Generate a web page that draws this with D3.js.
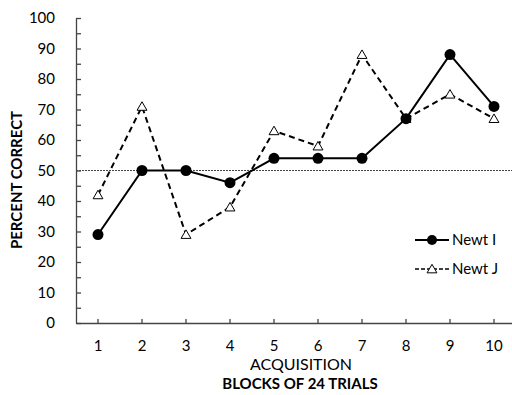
<!DOCTYPE html>
<html lang="en">
<head>
    <meta charset="UTF-8">
    <script src="https://cdnjs.cloudflare.com/ajax/libs/d3/7.8.5/d3.min.js"></script>
    <style>
        body { margin: 0; background: #fff; }
        svg { display: block; font-family: Lato, "Open Sans", sans-serif; }
    </style>
</head>
<body>
    <svg width="512" height="395"></svg>
    <script>
        // data
        var blocks = ["1", "2", "3", "4", "5", "6", "7", "8", "9", "10"];
        var newtI = [29, 50, 50, 46, 54, 54, 54, 67, 88, 71];
        var newtJ = [42, 71, 29, 38, 63, 58, 88, 67, 75, 67];
        var yTicks = [0, 10, 20, 30, 40, 50, 60, 70, 80, 90, 100];
        var chanceLevel = 50;

        var svg = d3.select("svg");
        var mLeft = 76, mTop = 18, mBottom = 323;

        var x = d3.scaleBand().domain(blocks).range([mLeft, mLeft + 440]);
        var y = d3.scaleLinear().domain([0, 100]).range([mBottom, mTop]);
        var cx = function (i) { return x(blocks[i]) + x.bandwidth() / 2; };

        // chance line
        svg.append("line")
            .attr("x1", mLeft).attr("x2", 512)
            .attr("y1", y(chanceLevel)).attr("y2", y(chanceLevel))
            .attr("stroke", "#444").attr("stroke-width", 1)
            .attr("stroke-dasharray", "2,1");

        // y axis, ticks inside
        var yAxis = d3.axisRight(y)
            .tickValues(d3.range(0, 101, 5))
            .tickSize(5)
            .tickSizeOuter(0)
            .tickFormat("");
        var yg = svg.append("g").attr("transform", "translate(" + mLeft + ",0)").call(yAxis);
        yg.selectAll("path, line").attr("stroke", "#444").attr("stroke-width", 1.3);

        svg.selectAll("text.ylab")
            .data(yTicks)
            .enter().append("text")
            .attr("class", "ylab")
            .attr("x", 55)
            .attr("y", function (d) { return y(d); })
            .attr("dy", "0.36em")
            .attr("text-anchor", "end")
            .style("font-size", "15px")
            .text(function (d) { return d; });

        // x axis, ticks pointing up
        var xAxis = d3.axisTop(x).tickSize(4).tickSizeOuter(0).tickFormat("");
        var xg = svg.append("g").attr("transform", "translate(0," + mBottom + ")").call(xAxis);
        xg.selectAll("path, line").attr("stroke", "#444").attr("stroke-width", 1.3);

        svg.selectAll("text.xlab")
            .data(blocks)
            .enter().append("text")
            .attr("class", "xlab")
            .attr("x", function (d) { return x(d) + x.bandwidth() / 2; })
            .attr("y", 346)
            .attr("dy", "0.36em")
            .attr("text-anchor", "middle")
            .style("font-size", "15px")
            .text(function (d) { return d; });

        // series lines
        var line = d3.line()
            .x(function (d, i) { return cx(i); })
            .y(function (d) { return y(d); });

        svg.append("path").datum(newtJ)
            .attr("d", line)
            .attr("fill", "none").attr("stroke", "#000")
            .attr("stroke-width", 2).attr("stroke-dasharray", "6,4");

        svg.append("path").datum(newtI)
            .attr("d", line)
            .attr("fill", "none").attr("stroke", "#000")
            .attr("stroke-width", 2);

        var tri = d3.symbol().type(d3.symbolTriangle).size(42);

        svg.selectAll("path.tri")
            .data(newtJ)
            .enter().append("path")
            .attr("class", "tri")
            .attr("d", tri)
            .attr("transform", function (d, i) { return "translate(" + cx(i) + "," + (y(d) + 1) + ")"; })
            .attr("fill", "#fff").attr("stroke", "#000").attr("stroke-width", 1);

        svg.selectAll("circle.dot")
            .data(newtI)
            .enter().append("circle")
            .attr("class", "dot")
            .attr("cx", function (d, i) { return cx(i); })
            .attr("cy", function (d) { return y(d); })
            .attr("r", 5.5)
            .attr("fill", "#000");

        // legend
        var legend = svg.append("g");
        legend.append("line").attr("x1", 415).attr("x2", 449).attr("y1", 240).attr("y2", 240)
            .attr("stroke", "#000").attr("stroke-width", 2);
        legend.append("circle").attr("cx", 432).attr("cy", 240).attr("r", 5).attr("fill", "#000");
        legend.append("text").attr("x", 452).attr("y", 240).attr("dy", "0.36em")
            .style("font-size", "15px").text("Newt I");

        legend.append("line").attr("x1", 415).attr("x2", 449).attr("y1", 269).attr("y2", 269)
            .attr("stroke", "#000").attr("stroke-width", 1.6).attr("stroke-dasharray", "4,2");
        legend.append("path").attr("d", tri)
            .attr("transform", "translate(432,270)")
            .attr("fill", "#fff").attr("stroke", "#000").attr("stroke-width", 1);
        legend.append("text").attr("x", 452).attr("y", 269).attr("dy", "0.36em")
            .style("font-size", "15px").text("Newt J");

        // axis titles
        svg.append("text")
            .attr("transform", "translate(17,180) rotate(-90)")
            .attr("dy", "0.36em")
            .attr("text-anchor", "middle")
            .style("font-size", "15px").style("font-weight", "bold")
            .text("PERCENT CORRECT");

        svg.append("text")
            .attr("x", 301).attr("y", 364).attr("dy", "0.36em")
            .attr("text-anchor", "middle")
            .style("font-size", "16px")
            .text("ACQUISITION");

        svg.append("text")
            .attr("x", 300).attr("y", 384).attr("dy", "0.36em")
            .attr("text-anchor", "middle")
            .style("font-size", "15px").style("font-weight", "bold")
            .text("BLOCKS OF 24 TRIALS");
    </script>
</body>
</html>
